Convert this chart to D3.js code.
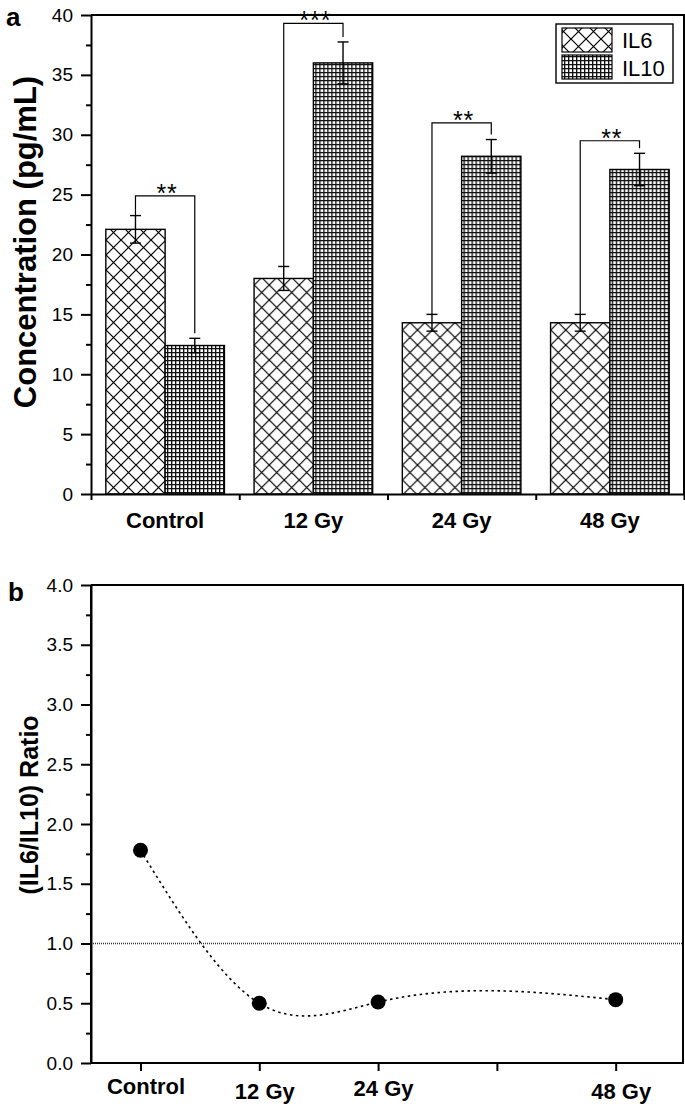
<!DOCTYPE html>
<html>
<head>
<meta charset="utf-8">
<script src="https://cdn.jsdelivr.net/npm/d3@7"></script>
<style>
body { margin: 0; background: #fff; }
svg text { font-family: "Liberation Sans", Arial, sans-serif; fill: #000; }
</style>
</head>
<body>
<div id="chart"></div>
<script>
// values
const groups = ["Control", "12 Gy", "24 Gy", "48 Gy"];
const series = ["IL6", "IL10"];
const il6 = [22.1, 18.0, 14.3, 14.3];
const il6Err = [1.15, 1.0, 0.7, 0.7];
const il10 = [12.4, 36.0, 28.2, 27.1];
const il10Err = [0.6, 1.75, 1.4, 1.35];
const sigLevel = [24.9, 39.3, 31.0, 29.5];
const sigStars = ["**", "***", "**", "**"];
const yTicksA = [0, 5, 10, 15, 20, 25, 30, 35, 40];

const doses = [0, 12, 24, 48];
const ratio = [1.78, 0.50, 0.51, 0.53];
const doseTicks = [0, 12, 24, 36, 48];
const doseTickLabels = ["Control", "12 Gy", "24 Gy", "", "48 Gy"];
const yTicksB = [0, 0.5, 1.0, 1.5, 2.0, 2.5, 3.0, 3.5, 4.0];
const refLine = 1.0;

const W = 685, H = 1108;
const svg = d3.select("#chart").append("svg")
    .attr("width", W).attr("height", H)
    .attr("viewBox", `0 0 ${W} ${H}`);

const defs = svg.append("defs");

// crosshatch for IL6
const px = defs.append("pattern").attr("id", "xhatch")
    .attr("patternUnits", "userSpaceOnUse")
    .attr("width", 15).attr("height", 15);
px.append("rect").attr("width", 15).attr("height", 15).attr("fill", "#fff");
px.append("path").attr("d", "M-1,-1L16,16M16,-1L-1,16")
    .attr("stroke", "#000").attr("stroke-width", 1.2);

// fine grid for IL10
const pg = defs.append("pattern").attr("id", "grid")
    .attr("patternUnits", "userSpaceOnUse")
    .attr("width", 4).attr("height", 4);
pg.append("rect").attr("width", 4).attr("height", 4).attr("fill", "#fff");
pg.append("path").attr("d", "M0,0.5H4M0.5,0V4")
    .attr("stroke", "#111").attr("stroke-width", 1.7);

const fills = { IL6: "url(#xhatch)", IL10: "url(#grid)" };

// ---------- panel a ----------
const a = { left: 91, right: 684, top: 15, bottom: 494 };

const xA = d3.scaleBand().domain(groups).range([a.left, a.right]);
const xSub = d3.scaleBand().domain(series).range([0, xA.bandwidth()]).paddingOuter(0.25);
const yA = d3.scaleLinear().domain([0, 40]).range([a.bottom, a.top]);

const rows = groups.map((g, i) => ({
    g,
    IL6: il6[i], IL6err: il6Err[i],
    IL10: il10[i], IL10err: il10Err[i],
    sig: sigLevel[i], stars: sigStars[i]
}));

const gA = svg.append("g");

const groupG = gA.selectAll(".grp").data(rows).join("g")
    .attr("transform", d => `translate(${xA(d.g)},0)`);

groupG.selectAll("rect").data(d => series.map(s => ({ s, v: d[s] })))
    .join("rect")
    .attr("x", d => xSub(d.s))
    .attr("y", d => yA(d.v))
    .attr("width", xSub.bandwidth())
    .attr("height", d => yA(0) - yA(d.v))
    .attr("fill", d => fills[d.s])
    .attr("stroke", "#000").attr("stroke-width", 1.4);

// error bars
const errs = groupG.selectAll(".err").data(d => series.map(s => ({ s, v: d[s], e: d[s + "err"] })))
    .join("g").attr("class", "err")
    .attr("transform", d => `translate(${xSub(d.s) + xSub.bandwidth() / 2},0)`);
errs.append("line")
    .attr("y1", d => yA(d.v - d.e)).attr("y2", d => yA(d.v + d.e))
    .attr("stroke", "#000").attr("stroke-width", 1.4);
errs.selectAll(".cap").data(d => [d.v - d.e, d.v + d.e]).join("line")
    .attr("x1", -5.5).attr("x2", 5.5)
    .attr("y1", d => yA(d)).attr("y2", d => yA(d))
    .attr("stroke", "#000").attr("stroke-width", 1.4);

// significance brackets
const cx1 = xSub("IL6") + xSub.bandwidth() / 2;
const cx2 = xSub("IL10") + xSub.bandwidth() / 2;
groupG.append("path")
    .attr("d", d => `M${cx1},${yA(d.IL6 + d.IL6err)}V${yA(d.sig)}H${cx2}V${yA(d.IL10 + d.IL10err) - 5}`)
    .attr("fill", "none").attr("stroke", "#000").attr("stroke-width", 1.2);
groupG.append("text")
    .attr("x", (cx1 + cx2) / 2 + 2)
    .attr("y", d => yA(d.sig) + 6)
    .attr("text-anchor", "middle")
    .attr("font-size", 25)
    .attr("letter-spacing", 1)
    .text(d => d.stars);

// y axis
const yAxisA = gA.append("g").attr("transform", `translate(${a.left},0)`)
    .call(d3.axisLeft(yA).tickValues(yTicksA).tickSize(10).tickSizeOuter(0).tickPadding(8));
gA.append("g").attr("transform", `translate(${a.left},0)`)
    .call(d3.axisLeft(yA).tickValues(yTicksA.slice(1).map(v => v - 2.5)).tickSize(5).tickFormat(""))
    .select(".domain").remove();
yAxisA.selectAll("text").attr("font-size", 19);

// x axis: labels at group centres, ticks at group edges
const xAxisA = gA.append("g").attr("transform", `translate(0,${a.bottom})`)
    .call(d3.axisBottom(xA).tickSize(0).tickPadding(18));
xAxisA.select(".domain").remove();
xAxisA.selectAll("text").attr("font-size", 22).attr("font-weight", "bold");
gA.append("g").attr("transform", `translate(0,${a.bottom})`)
    .call(d3.axisBottom(d3.scaleLinear().domain([0, 4]).range([a.left, a.right]))
        .ticks(4).tickSize(6).tickSizeOuter(0).tickFormat(""));

// frame
gA.append("path")
    .attr("d", `M${a.left},${a.top}H${a.right}V${a.bottom}`)
    .attr("fill", "none").attr("stroke", "#000").attr("stroke-width", 2);

gA.append("text")
    .attr("transform", "translate(36,242) rotate(-90)")
    .attr("text-anchor", "middle")
    .attr("font-size", 31).attr("font-weight", "bold")
    .text("Concentration (pg/mL)");

gA.append("text").attr("x", 6).attr("y", 26)
    .attr("font-size", 26).attr("font-weight", "bold").text("a");

// legend
const leg = gA.append("g").attr("transform", "translate(556,24)");
leg.append("rect").attr("width", 117).attr("height", 59)
    .attr("fill", "#fff").attr("stroke", "#000").attr("stroke-width", 1.4);
series.forEach((s, i) => {
    leg.append("rect")
        .attr("x", 6).attr("y", 4 + i * 27)
        .attr("width", 50).attr("height", 24)
        .attr("fill", fills[s]).attr("stroke", "#000").attr("stroke-width", 1.2);
    leg.append("text")
        .attr("x", 66).attr("y", 24 + i * 28)
        .attr("font-size", 22).text(s);
});

// ---------- panel b ----------
const b = { left: 91, right: 683, top: 585, bottom: 1063 };

const xB = d3.scaleLinear().domain([-5, 54.8]).range([b.left, b.right]);
const yB = d3.scaleLinear().domain([0, 4]).range([b.bottom, b.top]);

const gB = svg.append("g");

// reference line at ratio = 1
gB.append("line")
    .attr("x1", b.left).attr("x2", b.right)
    .attr("y1", yB(refLine)).attr("y2", yB(refLine))
    .attr("stroke", "#333").attr("stroke-width", 1.3)
    .attr("stroke-dasharray", "1,1");

// natural cubic spline through the points (in dose units)
function naturalSpline(xs, ys) {
    const n = xs.length - 1;
    const h = d3.range(n).map(i => xs[i + 1] - xs[i]);
    const lo = [], di = [], up = [], r = [];
    for (let i = 1; i < n; i++) {
        lo.push(h[i - 1]); di.push(2 * (h[i - 1] + h[i])); up.push(h[i]);
        r.push(6 * ((ys[i + 1] - ys[i]) / h[i] - (ys[i] - ys[i - 1]) / h[i - 1]));
    }
    const m = n - 1;
    for (let i = 1; i < m; i++) {
        const w = lo[i] / di[i - 1];
        di[i] -= w * up[i - 1];
        r[i] -= w * r[i - 1];
    }
    const M = new Array(n + 1).fill(0);
    for (let i = m - 1; i >= 0; i--) M[i + 1] = (r[i] - up[i] * M[i + 2]) / di[i];
    return x => {
        const i = Math.min(n - 1, Math.max(0, d3.bisectRight(xs, x) - 1));
        const t0 = xs[i + 1] - x, t1 = x - xs[i], hi = h[i];
        return M[i] * t0 ** 3 / (6 * hi) + M[i + 1] * t1 ** 3 / (6 * hi)
            + (ys[i] / hi - M[i] * hi / 6) * t0 + (ys[i + 1] / hi - M[i + 1] * hi / 6) * t1;
    };
}
const spline = naturalSpline(doses, ratio);
const curvePts = d3.range(doses[0], doses[doses.length - 1] + 0.001, 0.25).map(x => [x, spline(x)]);

gB.append("path")
    .datum(curvePts)
    .attr("d", d3.line().x(d => xB(d[0])).y(d => yB(d[1])))
    .attr("fill", "none").attr("stroke", "#000")
    .attr("stroke-width", 1.6).attr("stroke-dasharray", "2.5,3.5");

gB.selectAll(".pt").data(doses.map((d, i) => ({ d, v: ratio[i] })))
    .join("circle")
    .attr("cx", d => xB(d.d)).attr("cy", d => yB(d.v))
    .attr("r", 7.5).attr("fill", "#000");

// axes
const yAxisB = gB.append("g").attr("transform", `translate(${b.left},0)`)
    .call(d3.axisLeft(yB).tickValues(yTicksB).tickSize(10).tickSizeOuter(0)
        .tickPadding(8).tickFormat(d3.format(".1f")));
yAxisB.selectAll("text").attr("font-size", 19);
gB.append("g").attr("transform", `translate(${b.left},0)`)
    .call(d3.axisLeft(yB).tickValues(yTicksB.slice(1).map(v => v - 0.25)).tickSize(5).tickFormat(""))
    .select(".domain").remove();

// the original labels sit slightly staggered
const labelShiftB = [-5, 0, -3, 0, 0];
const xAxisB = gB.append("g").attr("transform", `translate(0,${b.bottom})`)
    .call(d3.axisBottom(xB).tickValues(doseTicks).tickSize(8).tickSizeOuter(0)
        .tickPadding(12).tickFormat((d, i) => doseTickLabels[i]));
xAxisB.select(".domain").remove();
xAxisB.selectAll("text")
    .attr("font-size", 22).attr("font-weight", "bold")
    .attr("dx", 5)
    .attr("dy", (d, i) => `${0.71 + labelShiftB[i] / 22}em`);

gB.append("path")
    .attr("d", `M${b.left},${b.top}V${b.bottom}H${b.right}V${b.top}H${b.left}`)
    .attr("fill", "none").attr("stroke", "#000").attr("stroke-width", 2);

gB.append("text")
    .attr("transform", "translate(38,805) rotate(-90)")
    .attr("text-anchor", "middle")
    .attr("font-size", 25).attr("font-weight", "bold")
    .text("(IL6/IL10) Ratio");

gB.append("text").attr("x", 8).attr("y", 601)
    .attr("font-size", 26).attr("font-weight", "bold").text("b");

// axis line weight
svg.selectAll(".domain").attr("stroke-width", 2);
svg.selectAll(".tick line").attr("stroke-width", 2);
</script>
</body>
</html>
